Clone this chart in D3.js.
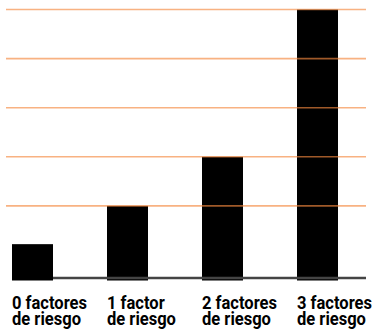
<!DOCTYPE html>
<html>
<head>
<meta charset="utf-8">
<script src="https://cdnjs.cloudflare.com/ajax/libs/d3/7.8.5/d3.min.js"></script>
<style>
body { margin: 0; background: #fff; }
svg text { font-family: Roboto, "Liberation Sans", sans-serif; font-weight: bold; }
</style>
</head>
<body>
<div id="chart"></div>
<script>
// categories (two lines each) and bar values
var categories = ["0 factores", "1 factor", "2 factores", "3 factores"];
var labelLine2 = ["de riesgo", "de riesgo", "de riesgo", "de riesgo"];
var values = [0.72, 1.5, 2.5, 5.5];
var gridValues = [1.5, 2.5, 3.5, 4.5, 5.5];

var width = 375, height = 330;
var baseY = 279.5;

var svg = d3.select("#chart").append("svg")
    .attr("width", width)
    .attr("height", height);

var x = d3.scaleBand()
    .domain(categories)
    .range([12, 338])
    .paddingInner(0.5684)
    .paddingOuter(0);

var y = d3.scaleLinear()
    .domain([0, 5.5])
    .range([baseY, 9.5]);

// bars
svg.selectAll("rect.bar")
    .data(values)
    .enter().append("rect")
    .attr("class", "bar")
    .attr("x", function(d, i) { return x(categories[i]); })
    .attr("y", function(d) { return y(d); })
    .attr("width", x.bandwidth())
    .attr("height", function(d) { return baseY + 1 - y(d); })
    .attr("fill", "#000");

// gridlines drawn on top, semi transparent orange
svg.selectAll("line.grid")
    .data(gridValues)
    .enter().append("line")
    .attr("class", "grid")
    .attr("x1", 6)
    .attr("x2", 366)
    .attr("y1", function(d) { return y(d); })
    .attr("y2", function(d) { return y(d); })
    .attr("stroke", "#f5893f")
    .attr("stroke-opacity", 0.65)
    .attr("stroke-width", 1.6);

// baseline
svg.append("line")
    .attr("x1", x(categories[0]) + x.bandwidth())
    .attr("x2", 366)
    .attr("y1", 278)
    .attr("y2", 278)
    .attr("stroke", "#444")
    .attr("stroke-width", 2.5);

// labels, squeezed to look like a condensed face
function addLine(cls, yPos, textFn) {
    return svg.selectAll("text." + cls)
        .data(categories)
        .enter().append("text")
        .attr("class", cls)
        .attr("x", function(d) { return x(d); })
        .attr("y", yPos)
        .attr("font-size", 19)
        .attr("fill", "#000")
        .text(textFn);
}
var line1 = addLine("l1", 308.5, function(d) { return d; });
var line2 = addLine("l2", 324.5, function(d, i) { return labelLine2[i]; });

var k = 75 / line1.node().getComputedTextLength();
[line1, line2].forEach(function(sel) {
    sel.each(function() {
        var w = this.getComputedTextLength();
        d3.select(this)
            .attr("textLength", w * k)
            .attr("lengthAdjust", "spacingAndGlyphs");
    });
});
</script>
</body>
</html>
